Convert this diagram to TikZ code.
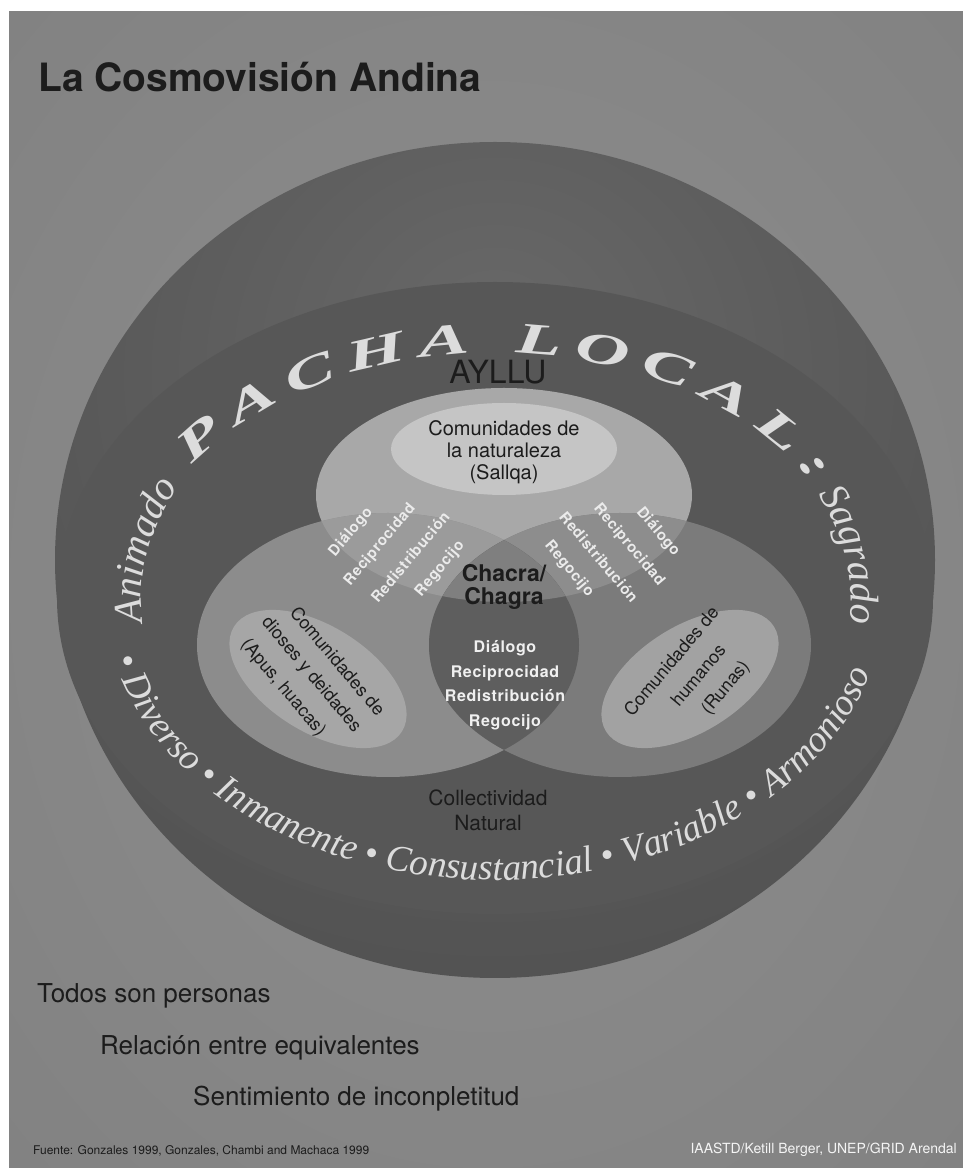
\documentclass[tikz,border=0pt]{standalone}
\usepackage{fontspec}
\setmainfont{Liberation Serif}
\newfontfamily\hv{TeX Gyre Heros}
\newfontfamily\hvsp[LetterSpace=4]{TeX Gyre Heros}
\newfontfamily\pachafam[FakeStretch=1.7]{Liberation Serif}
\usetikzlibrary{decorations.text}
\definecolor{cbgin}{HTML}{8E8E8E}
\definecolor{cbgout}{HTML}{7D7D7D}
\definecolor{cdomein}{HTML}{686868}
\definecolor{cdomemid}{HTML}{585858}
\definecolor{cdomeout}{HTML}{4A4A4A}
\definecolor{cdisc}{HTML}{575757}
\definecolor{ctop}{HTML}{A8A8A8}
\definecolor{ctopin}{HTML}{C5C5C5}
\definecolor{cleft}{HTML}{8C8C8C}
\definecolor{cleftin}{HTML}{A6A6A6}
\definecolor{cright}{HTML}{7B7B7B}
\definecolor{crightin}{HTML}{A2A2A2}
\definecolor{ctl}{HTML}{9B9B9B}
\definecolor{ctr}{HTML}{8D8D8D}
\definecolor{clr}{HTML}{5E5E5E}
\definecolor{ctri}{HTML}{7F7F7F}
\definecolor{cring}{HTML}{DCDCDC}
\definecolor{cdark}{HTML}{1C1C1C}
\pgfdeclareradialshading{bgshade}{\pgfpoint{0bp}{0bp}}{color(0bp)=(cbgin); color(50bp)=(cbgout); color(100bp)=(cbgout)}
\pgfdeclareradialshading{domeshade}{\pgfpoint{0bp}{14bp}}{color(0bp)=(cdomein); color(25bp)=(cdomemid); color(50bp)=(cdomeout); color(100bp)=(cdomeout)}
\newcommand\ringstyle{\itshape\fontsize{37}{37}\selectfont\color{cring}}
\newcommand\ringbig{\itshape\fontsize{40}{40}\selectfont\color{cring}}
\newcommand\pachastyle{\pachafam\bfseries\itshape\fontsize{44}{44}\selectfont\color{cring}}
\tikzset{
  darktext/.style={text=cdark, inner sep=0pt},
  sidew/.style={text=white!92!black, font=\hvsp\bfseries\fontsize{15}{15}\selectfont, inner sep=0pt},
  comm/.style={text=cdark, font=\hv\fontsize{18}{18}\selectfont, inner sep=0pt},
  bottomline/.style={anchor=base west, text=cdark, font=\hv\fontsize{26}{26}\selectfont, inner sep=0pt},
}
\begin{document}
\begin{tikzpicture}[x=1pt,y=1pt]
\useasboundingbox (0,0) rectangle (962,1168);
\fill[white] (0,0) rectangle (962,1168);
\path[shading=bgshade] (9,0) rectangle (963,1156);
% dome and disc
\path[shading=domeshade] (495,608) ellipse [x radius=440, y radius=418];
\fill[cdisc] (495,570) ellipse [x radius=438, y radius=316];
% Venn circles
\fill[ctop] (504,673) ellipse [x radius=188, y radius=107];
\fill[cleft] (388,523) ellipse [x radius=191, y radius=132];
\fill[cright] (620,523) ellipse [x radius=191, y radius=132];
\begin{scope}
  \clip (504,673) ellipse [x radius=188, y radius=107];
  \fill[ctl] (388,523) ellipse [x radius=191, y radius=132];
  \fill[ctr] (620,523) ellipse [x radius=191, y radius=132];
\end{scope}
\begin{scope}
  \clip (388,523) ellipse [x radius=191, y radius=132];
  \fill[clr] (620,523) ellipse [x radius=191, y radius=132];
  \clip (504,673) ellipse [x radius=188, y radius=107];
  \fill[ctri] (620,523) ellipse [x radius=191, y radius=132];
\end{scope}
\fill[ctopin] (504,719) ellipse [x radius=113, y radius=46];
\fill[cleftin, rotate around={-32:(318,489)}] (318,489) ellipse [x radius=99, y radius=53];
\fill[crightin, rotate around={32:(690,489)}] (690,489) ellipse [x radius=99, y radius=53];
% ring texts
\begin{scope}[shift={(495,568)}]
  \path[decorate, decoration={text along path, text={|\ringbig|Animado}, text align=center}]
    (191:354 and 252) arc[start angle=191, end angle=148, x radius=354, y radius=252];
  \path[decorate, decoration={text along path, text={|\pachastyle|PACHA LOCAL:}, text align={fit to path}}]
    (147:361 and 247) arc[start angle=147, end angle=28, x radius=361, y radius=247];
  \path[decorate, decoration={text along path, text={|\ringbig|Sagrado}, text align=center}]
    (29:356 and 252) arc[start angle=29, end angle=-10, x radius=356, y radius=252];
  \path[decorate, decoration={text along path, text={|\ringstyle|• Diverso • Inmanente • Consustancial • Variable • Armonioso •}, text align={fit to path}}]
    (192:389 and 280) arc[start angle=192, end angle=348, x radius=389, y radius=280];
\end{scope}
% title
\node[anchor=base west, darktext, font=\hv\bfseries\fontsize{39}{39}\selectfont] (title) at (38,1076) {La Cosmovisión Andina};
% inner texts
\node[darktext, font=\hv\fontsize{32}{32}\selectfont] (ayllu) at (498,796) {AYLLU};
\node[darktext, align=center, font=\hv\fontsize{20}{22}\selectfont] (sallqa) at (504,716) {Comunidades de\\la naturaleza\\(Sallqa)};
\node[darktext, align=center, font=\hv\bfseries\fontsize{23}{23}\selectfont] (chacra) at (504,581) {Chacra/\\Chagra};
\node[align=center, inner sep=0pt, text=white!94!black, font=\hvsp\bfseries\fontsize{16}{24.5}\selectfont] (valores) at (505,483) {Diálogo\\Reciprocidad\\Redistribución\\Regocijo};
\node[sidew, rotate=50] (ld1) at (351,636) {Diálogo};
\node[sidew, rotate=50] (ld2) at (380,623) {Reciprocidad};
\node[sidew, rotate=50] (ld3) at (410,611) {Redistribución};
\node[sidew, rotate=50] (ld4) at (440,599) {Regocijo};
\node[sidew, rotate=-50] (rd1) at (658,636) {Diálogo};
\node[sidew, rotate=-50] (rd2) at (629,623) {Reciprocidad};
\node[sidew, rotate=-50] (rd3) at (599,611) {Redistribución};
\node[sidew, rotate=-50] (rd4) at (569,599) {Regocijo};
\node[comm, rotate=-50] (dio1) at (338,507) {Comunidades de};
\node[comm, rotate=-50] (dio2) at (311,493) {dioses y deidades};
\node[comm, rotate=-50] (dio3) at (283,480) {(Apus, huacas)};
\node[comm, rotate=50] (hum1) at (671,507) {Comunidades de};
\node[comm, rotate=50] (hum2) at (698,493) {humanos};
\node[comm, rotate=50] (hum3) at (726,480) {(Runas)};
\node[darktext, align=center, font=\hv\fontsize{21}{25}\selectfont] (colect) at (488,358) {Collectividad\\Natural};
% bottom texts
\node[bottomline] (b1) at (37,165) {Todos son personas};
\node[bottomline] (b2) at (100,113) {Relación entre equivalentes};
\node[bottomline] (b3) at (193,62) {Sentimiento de inconpletitud};
\node[anchor=base west, inner sep=0pt, text=cdark, font=\hv\fontsize{12}{12}\selectfont] (fuente) at (33,13) {Fuente: Gonzales 1999, Gonzales, Chambi and Machaca 1999};
\node[anchor=base east, inner sep=0pt, text=white!96!black, font=\hv\fontsize{14}{14}\selectfont] (credit) at (957,15) {IAASTD/Ketill Berger, UNEP/GRID Arendal};
\end{tikzpicture}
\end{document}
